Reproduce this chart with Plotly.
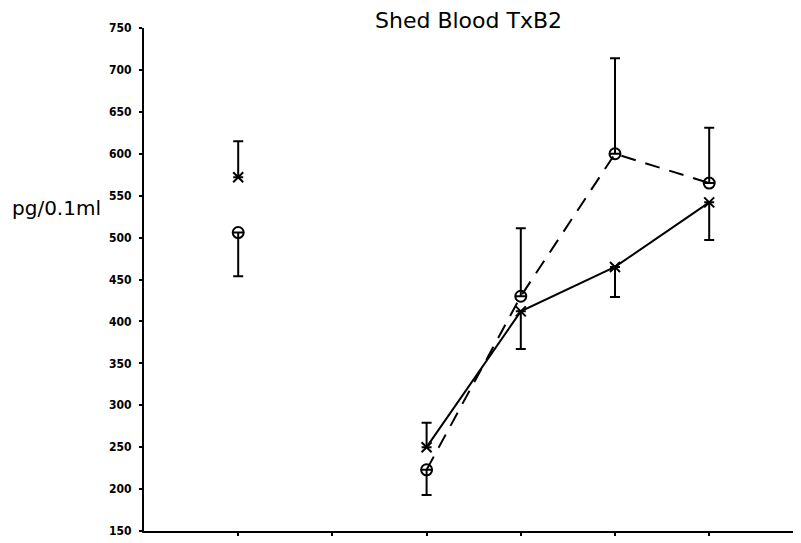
import plotly.graph_objects as go

# Data
x_vals = [1, 2, 3, 4, 5, 6]
cross_y = [572, None, 250, 412, 465, 542]
cross_err_plus = [43, 0, 29, 0, 0, 0]
cross_err_minus = [0, 0, 0, 45, 36, 45]

circle_y = [506, None, 223, 430, 600, 565]
circle_err_plus = [0, 0, 0, 81, 114, 66]
circle_err_minus = [52, 0, 30, 0, 0, 0]

y_ticks = [150, 200, 250, 300, 350, 400, 450, 500, 550, 600, 650, 700, 750]
x_ticks = [1, 2, 3, 4, 5, 6]

title_text = "Shed Blood TxB2"
y_label = "pg/0.1ml"

W, H = 801, 543
OFF = 8  # page body margin
L, T = 144 - OFF, 28 - OFF
R = OFF
B = H - (531 - OFF)

fig = go.Figure()

fig.add_trace(go.Scatter(
    x=x_vals, y=circle_y, mode="lines+markers", connectgaps=False,
    line=dict(color="black", width=2, dash="15px,10px"),
    marker=dict(symbol="circle-open", size=11, color="black", line=dict(width=2, color="black")),
    error_y=dict(type="data", symmetric=False, array=circle_err_plus, arrayminus=circle_err_minus,
                 color="black", thickness=2, width=5),
    showlegend=False,
))

fig.add_trace(go.Scatter(
    x=x_vals, y=cross_y, mode="lines+markers", connectgaps=False,
    line=dict(color="black", width=2),
    marker=dict(symbol="x-thin", size=10, color="black", line=dict(width=2, color="black")),
    error_y=dict(type="data", symmetric=False, array=cross_err_plus, arrayminus=cross_err_minus,
                 color="black", thickness=2, width=5),
    showlegend=False,
))

pw = W - L - R
ph = H - T - B

def px_to_paper(px, py):
    fx, fy = px - OFF, py - OFF
    return (fx - L) / pw, (H - B - fy) / ph

tx, ty = px_to_paper(468, 21)
lx, ly = px_to_paper(56, 208)

fig.update_layout(
    width=W, height=H,
    margin=dict(l=L, r=R, t=T, b=B, pad=0, autoexpand=False),
    paper_bgcolor="white", plot_bgcolor="white",
    xaxis=dict(range=[0, pw / 94.2], showgrid=False, zeroline=False, automargin=False,
               showline=True, linecolor="black", linewidth=2,
               tickmode="array", tickvals=x_ticks, ticktext=[""] * len(x_ticks),
               ticks="outside", ticklen=3, tickwidth=2, tickcolor="black"),
    yaxis=dict(range=[150, 750], showgrid=False, zeroline=False, automargin=False,
               showline=True, linecolor="black", linewidth=2,
               tickmode="array", tickvals=y_ticks, ticktext=[str(v) for v in y_ticks],
               ticks="outside", ticklen=3, tickwidth=2, tickcolor="black",
               ticklabelstandoff=5,
               tickfont=dict(family="DejaVu Sans Condensed", size=12, color="black", weight="bold")),
    annotations=[
        dict(text=title_text, xref="paper", yref="paper",
             x=tx, y=ty, xanchor="center", yanchor="middle",
             showarrow=False, font=dict(family="DejaVu Sans", size=22, color="black")),
        dict(text=y_label, xref="paper", yref="paper",
             x=lx, y=ly, xanchor="center", yanchor="middle",
             showarrow=False, font=dict(family="DejaVu Sans", size=20, color="black")),
    ],
)

fig.write_html("out.html")
